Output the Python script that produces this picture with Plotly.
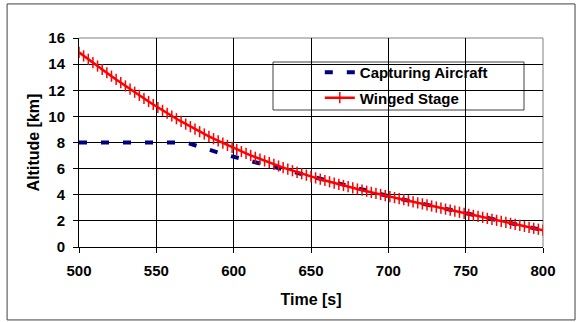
import plotly.graph_objects as go

# Time [s], sampled every 3 s
time_s = list(range(500, 801, 3))

winged_stage_km = [
    14.90, 14.63, 14.37, 14.11, 13.85, 13.59, 13.34, 13.08, 12.83, 12.58,
    12.33, 12.09, 11.85, 11.61, 11.37, 11.14, 10.91, 10.68, 10.46, 10.24,
    10.03, 9.82, 9.61, 9.41, 9.21, 9.02, 8.83, 8.65, 8.47, 8.29,
    8.12, 7.95, 7.78, 7.62, 7.46, 7.31, 7.16, 7.01, 6.87, 6.73,
    6.59, 6.46, 6.33, 6.20, 6.08, 5.96, 5.84, 5.72, 5.61, 5.50,
    5.39, 5.29, 5.19, 5.09, 4.99, 4.89, 4.80, 4.71, 4.62, 4.53,
    4.44, 4.35, 4.27, 4.18, 4.10, 4.02, 3.94, 3.86, 3.78, 3.70,
    3.62, 3.54, 3.46, 3.38, 3.30, 3.22, 3.14, 3.06, 2.98, 2.90,
    2.82, 2.74, 2.66, 2.58, 2.50, 2.42, 2.35, 2.27, 2.19, 2.11,
    2.04, 1.96, 1.88, 1.81, 1.73, 1.66, 1.58, 1.51, 1.43, 1.36,
    1.29,
]

capturing_aircraft_km = [
    8.00, 8.00, 8.00, 8.00, 8.00, 8.00, 8.00, 8.00, 8.00, 8.00,
    8.00, 8.00, 8.00, 8.00, 8.00, 8.00, 8.00, 8.00, 8.00, 8.00,
    8.00, 8.00, 8.00, 8.00, 7.90, 7.78, 7.66, 7.54, 7.42, 7.30,
    7.21, 7.12, 7.03, 6.94, 6.84, 6.74, 6.64, 6.54, 6.44, 6.34,
    6.24, 6.15, 6.06, 5.97, 5.88, 5.79, 5.70, 5.60, 5.52, 5.46,
    5.38, 5.29, 5.19, 5.09, 4.99, 4.89, 4.80, 4.71, 4.62, 4.53,
    4.44, 4.35, 4.27, 4.18, 4.10, 4.02, 3.94, 3.86, 3.78, 3.70,
    3.62, 3.54, 3.46, 3.38, 3.30, 3.22, 3.14, 3.06, 2.98, 2.90,
    2.82, 2.74, 2.66, 2.58, 2.50, 2.42, 2.35, 2.27, 2.19, 2.11,
    2.04, 1.96, 1.88, 1.81, 1.73, 1.66, 1.58, 1.51, 1.43, 1.36,
    1.29,
]

x_ticks = [500, 550, 600, 650, 700, 750, 800]
y_ticks = [0, 2, 4, 6, 8, 10, 12, 14, 16]

FONT = "Liberation Sans, Arial, sans-serif"

fig = go.Figure()
fig.add_trace(go.Scatter(
    x=time_s, y=capturing_aircraft_km, name="<b>Capturing Aircraft</b>",
    legendgroup="a",
    mode="lines", line=dict(color="#000080", width=4, dash="8px,14px"),
))
fig.add_trace(go.Scatter(
    x=time_s, y=winged_stage_km, name="<b>Winged Stage</b>",
    legendgroup="b",
    mode="lines+markers", line=dict(color="#ff0000", width=2.5),
    marker=dict(symbol="line-ns", size=8, color="#ff0000",
                line=dict(color="#ff0000", width=1.5)),
))

fig.update_layout(
    width=578, height=322,
    margin=dict(l=79, r=35, t=38, b=75),
    paper_bgcolor="white", plot_bgcolor="white",
    font=dict(family=FONT, color="black", size=15, weight="bold"),
    legend=dict(
        x=0.519, y=0.914, xanchor="left", yanchor="top",
        bgcolor="rgba(0,0,0,0)", borderwidth=0,
        font=dict(family=FONT, size=15, color="black", weight="bold"),
        itemwidth=30, traceorder="grouped", tracegroupgap=3,
    ),
    shapes=[
        # outer chart border
        dict(type="rect", xref="paper", yref="paper",
             x0=-0.155, x1=1.069, y0=-0.349, y1=1.163,
             line=dict(color="#404040", width=1), layer="below"),
        # legend box
        dict(type="rect", xref="paper", yref="paper",
             x0=(273 - 79) / 464, x1=(524 - 79) / 464,
             y0=(247 - 110) / 209, y1=(247 - 62) / 209,
             line=dict(color="#404040", width=1), fillcolor="white",
             layer="between"),
        # grey top and right plot edges
        dict(type="line", xref="paper", yref="paper", x0=0, x1=1, y0=1, y1=1,
             line=dict(color="#808080", width=1), layer="between"),
        dict(type="line", xref="paper", yref="paper", x0=1, x1=1, y0=0, y1=1,
             line=dict(color="#808080", width=1), layer="between"),
    ],
)

fig.update_xaxes(
    range=[500, 800], tickvals=x_ticks,
    ticktext=[f"<b>{v}</b>" for v in x_ticks],
    showgrid=True, gridcolor="black", gridwidth=1,
    showline=True, linecolor="black", linewidth=1,
    ticks="outside", ticklen=5, tickcolor="black",
    zeroline=False, ticklabelstandoff=5,
    title=dict(text="<b>Time [s]</b>", font=dict(size=16, weight="bold"), standoff=15),
    tickfont=dict(size=15, weight="bold"),
)
fig.update_yaxes(
    range=[0, 16], tickvals=y_ticks,
    ticktext=[f"<b>{v}</b>" for v in y_ticks],
    showgrid=True, gridcolor="black", gridwidth=1,
    showline=True, linecolor="black", linewidth=1,
    ticks="outside", ticklen=5, tickcolor="black",
    zeroline=False, ticklabelstandoff=5,
    title=dict(text="<b>Altitude [km]</b>", font=dict(size=16, weight="bold"), standoff=4),
    tickfont=dict(size=15, weight="bold"),
)

fig.write_html("out.html")
